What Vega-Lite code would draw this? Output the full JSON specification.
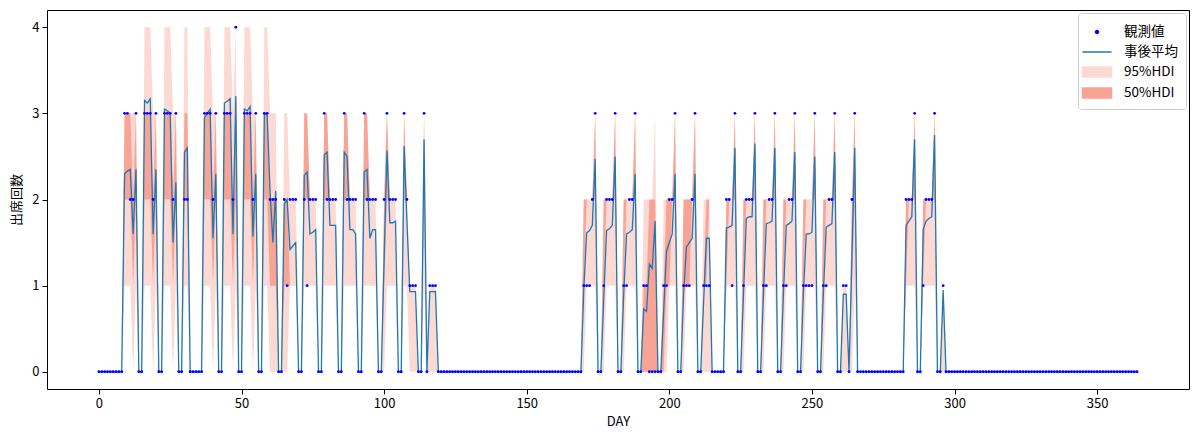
{
  "$schema": "https://vega.github.io/schema/vega-lite/v6.json",
  "width": 1142,
  "height": 379,
  "autosize": {"type": "none"},
  "padding": {"left": 47, "top": 10, "right": 11, "bottom": 52},
  "background": "white",
  "config": {
    "view": {"stroke": "black", "strokeWidth": 1},
    "font": "Noto Sans CJK JP",
    "axis": {
      "grid": false, "domain": false, "tickColor": "black", "tickSize": 5,
      "labelColor": "black", "labelFontSize": 13, "labelFont": "Noto Sans CJK JP",
      "titleColor": "black", "titleFontSize": 13, "titleFont": "Noto Sans CJK JP", "titleFontWeight": "normal"
    }
  },
  "data": {"values": [
{"day":0,"obs":0,"mean":0,"l95":0,"h95":0,"l50":0,"h50":0},
{"day":1,"obs":0,"mean":0,"l95":0,"h95":0,"l50":0,"h50":0},
{"day":2,"obs":0,"mean":0,"l95":0,"h95":0,"l50":0,"h50":0},
{"day":3,"obs":0,"mean":0,"l95":0,"h95":0,"l50":0,"h50":0},
{"day":4,"obs":0,"mean":0,"l95":0,"h95":0,"l50":0,"h50":0},
{"day":5,"obs":0,"mean":0,"l95":0,"h95":0,"l50":0,"h50":0},
{"day":6,"obs":0,"mean":0,"l95":0,"h95":0,"l50":0,"h50":0},
{"day":7,"obs":0,"mean":0,"l95":0,"h95":0,"l50":0,"h50":0},
{"day":8,"obs":0,"mean":0,"l95":0,"h95":0,"l50":0,"h50":0},
{"day":9,"obs":3,"mean":2.30,"l95":1,"h95":3,"l50":2,"h50":3},
{"day":10,"obs":3,"mean":2.33,"l95":1,"h95":3,"l50":2,"h50":3},
{"day":11,"obs":2,"mean":2.35,"l95":1,"h95":3,"l50":2,"h50":3},
{"day":12,"obs":2,"mean":1.60,"l95":0,"h95":3,"l50":1,"h50":2},
{"day":13,"obs":3,"mean":2.35,"l95":1,"h95":3,"l50":2,"h50":3},
{"day":14,"obs":0,"mean":0,"l95":0,"h95":0,"l50":0,"h50":0},
{"day":15,"obs":0,"mean":0,"l95":0,"h95":0,"l50":0,"h50":0},
{"day":16,"obs":3,"mean":3.15,"l95":1,"h95":4,"l50":2,"h50":3},
{"day":17,"obs":3,"mean":3.12,"l95":1,"h95":4,"l50":2,"h50":3},
{"day":18,"obs":3,"mean":3.17,"l95":1,"h95":4,"l50":2,"h50":3},
{"day":19,"obs":2,"mean":1.60,"l95":0,"h95":3,"l50":1,"h50":2},
{"day":20,"obs":3,"mean":2.35,"l95":1,"h95":3,"l50":2,"h50":3},
{"day":21,"obs":0,"mean":0,"l95":0,"h95":0,"l50":0,"h50":0},
{"day":22,"obs":0,"mean":0,"l95":0,"h95":0,"l50":0,"h50":0},
{"day":23,"obs":3,"mean":3.05,"l95":1,"h95":4,"l50":2,"h50":3},
{"day":24,"obs":3,"mean":3.03,"l95":1,"h95":4,"l50":2,"h50":3},
{"day":25,"obs":3,"mean":3.00,"l95":1,"h95":4,"l50":2,"h50":3},
{"day":26,"obs":2,"mean":1.50,"l95":0,"h95":3,"l50":1,"h50":2},
{"day":27,"obs":3,"mean":2.20,"l95":1,"h95":3,"l50":2,"h50":3},
{"day":28,"obs":0,"mean":0,"l95":0,"h95":0,"l50":0,"h50":0},
{"day":29,"obs":0,"mean":0,"l95":0,"h95":0,"l50":0,"h50":0},
{"day":30,"obs":2,"mean":2.55,"l95":1,"h95":4,"l50":2,"h50":3},
{"day":31,"obs":2,"mean":2.60,"l95":1,"h95":4,"l50":2,"h50":3},
{"day":32,"obs":0,"mean":0,"l95":0,"h95":0,"l50":0,"h50":0},
{"day":33,"obs":0,"mean":0,"l95":0,"h95":0,"l50":0,"h50":0},
{"day":34,"obs":0,"mean":0,"l95":0,"h95":0,"l50":0,"h50":0},
{"day":35,"obs":0,"mean":0,"l95":0,"h95":0,"l50":0,"h50":0},
{"day":36,"obs":0,"mean":0,"l95":0,"h95":0,"l50":0,"h50":0},
{"day":37,"obs":3,"mean":2.95,"l95":1,"h95":4,"l50":2,"h50":3},
{"day":38,"obs":3,"mean":3.00,"l95":1,"h95":4,"l50":2,"h50":3},
{"day":39,"obs":3,"mean":3.05,"l95":1,"h95":4,"l50":2,"h50":3},
{"day":40,"obs":2,"mean":1.55,"l95":0,"h95":3,"l50":1,"h50":2},
{"day":41,"obs":3,"mean":2.30,"l95":1,"h95":3,"l50":2,"h50":3},
{"day":42,"obs":0,"mean":0,"l95":0,"h95":0,"l50":0,"h50":0},
{"day":43,"obs":0,"mean":0,"l95":0,"h95":0,"l50":0,"h50":0},
{"day":44,"obs":3,"mean":3.12,"l95":1,"h95":4,"l50":2,"h50":3},
{"day":45,"obs":3,"mean":3.14,"l95":1,"h95":4,"l50":2,"h50":3},
{"day":46,"obs":3,"mean":3.17,"l95":1,"h95":4,"l50":2,"h50":3},
{"day":47,"obs":2,"mean":1.60,"l95":0,"h95":3,"l50":1,"h50":2},
{"day":48,"obs":4,"mean":3.20,"l95":1,"h95":4,"l50":2,"h50":3},
{"day":49,"obs":0,"mean":0,"l95":0,"h95":0,"l50":0,"h50":0},
{"day":50,"obs":0,"mean":0,"l95":0,"h95":0,"l50":0,"h50":0},
{"day":51,"obs":3,"mean":3.05,"l95":1,"h95":4,"l50":2,"h50":3},
{"day":52,"obs":3,"mean":3.03,"l95":1,"h95":4,"l50":2,"h50":3},
{"day":53,"obs":3,"mean":3.08,"l95":1,"h95":4,"l50":2,"h50":3},
{"day":54,"obs":2,"mean":1.57,"l95":0,"h95":3,"l50":1,"h50":2},
{"day":55,"obs":3,"mean":2.30,"l95":1,"h95":3,"l50":2,"h50":3},
{"day":56,"obs":0,"mean":0,"l95":0,"h95":0,"l50":0,"h50":0},
{"day":57,"obs":0,"mean":0,"l95":0,"h95":0,"l50":0,"h50":0},
{"day":58,"obs":3,"mean":3.00,"l95":1,"h95":4,"l50":2,"h50":3},
{"day":59,"obs":3,"mean":2.98,"l95":1,"h95":4,"l50":2,"h50":3},
{"day":60,"obs":2,"mean":2.10,"l95":0,"h95":3,"l50":1,"h50":2},
{"day":61,"obs":2,"mean":1.50,"l95":0,"h95":3,"l50":1,"h50":2},
{"day":62,"obs":2,"mean":2.10,"l95":0,"h95":3,"l50":1,"h50":2},
{"day":63,"obs":0,"mean":0,"l95":0,"h95":0,"l50":0,"h50":0},
{"day":64,"obs":0,"mean":0,"l95":0,"h95":0,"l50":0,"h50":0},
{"day":65,"obs":2,"mean":1.95,"l95":0,"h95":3,"l50":1,"h50":2},
{"day":66,"obs":1,"mean":2.00,"l95":0,"h95":3,"l50":1,"h50":2},
{"day":67,"obs":2,"mean":1.42,"l95":1,"h95":2,"l50":1,"h50":1},
{"day":68,"obs":2,"mean":1.46,"l95":1,"h95":2,"l50":1,"h50":1},
{"day":69,"obs":2,"mean":1.50,"l95":1,"h95":2,"l50":1,"h50":1},
{"day":70,"obs":0,"mean":0,"l95":0,"h95":0,"l50":0,"h50":0},
{"day":71,"obs":0,"mean":0,"l95":0,"h95":0,"l50":0,"h50":0},
{"day":72,"obs":2,"mean":2.28,"l95":1,"h95":3,"l50":2,"h50":3},
{"day":73,"obs":1,"mean":2.32,"l95":1,"h95":3,"l50":2,"h50":3},
{"day":74,"obs":2,"mean":1.60,"l95":1,"h95":2,"l50":2,"h50":2},
{"day":75,"obs":2,"mean":1.62,"l95":1,"h95":2,"l50":2,"h50":2},
{"day":76,"obs":2,"mean":1.65,"l95":1,"h95":2,"l50":2,"h50":2},
{"day":77,"obs":0,"mean":0,"l95":0,"h95":0,"l50":0,"h50":0},
{"day":78,"obs":0,"mean":0,"l95":0,"h95":0,"l50":0,"h50":0},
{"day":79,"obs":3,"mean":2.52,"l95":1,"h95":3,"l50":2,"h50":3},
{"day":80,"obs":2,"mean":2.55,"l95":1,"h95":3,"l50":2,"h50":3},
{"day":81,"obs":2,"mean":1.70,"l95":1,"h95":2,"l50":2,"h50":2},
{"day":82,"obs":2,"mean":1.70,"l95":1,"h95":2,"l50":2,"h50":2},
{"day":83,"obs":2,"mean":1.70,"l95":1,"h95":2,"l50":2,"h50":2},
{"day":84,"obs":0,"mean":0,"l95":0,"h95":0,"l50":0,"h50":0},
{"day":85,"obs":0,"mean":0,"l95":0,"h95":0,"l50":0,"h50":0},
{"day":86,"obs":3,"mean":2.55,"l95":1,"h95":3,"l50":2,"h50":3},
{"day":87,"obs":2,"mean":2.50,"l95":1,"h95":3,"l50":2,"h50":3},
{"day":88,"obs":2,"mean":1.65,"l95":1,"h95":2,"l50":2,"h50":2},
{"day":89,"obs":2,"mean":1.65,"l95":1,"h95":2,"l50":2,"h50":2},
{"day":90,"obs":2,"mean":1.60,"l95":1,"h95":2,"l50":2,"h50":2},
{"day":91,"obs":0,"mean":0,"l95":0,"h95":0,"l50":0,"h50":0},
{"day":92,"obs":0,"mean":0,"l95":0,"h95":0,"l50":0,"h50":0},
{"day":93,"obs":3,"mean":2.32,"l95":1,"h95":3,"l50":2,"h50":3},
{"day":94,"obs":2,"mean":2.35,"l95":1,"h95":3,"l50":2,"h50":3},
{"day":95,"obs":2,"mean":1.55,"l95":1,"h95":2,"l50":2,"h50":2},
{"day":96,"obs":2,"mean":1.65,"l95":1,"h95":2,"l50":2,"h50":2},
{"day":97,"obs":2,"mean":1.65,"l95":1,"h95":2,"l50":2,"h50":2},
{"day":98,"obs":0,"mean":0,"l95":0,"h95":0,"l50":0,"h50":0},
{"day":99,"obs":0,"mean":0,"l95":0,"h95":0,"l50":0,"h50":0},
{"day":100,"obs":2,"mean":1.30,"l95":0,"h95":2,"l50":1,"h50":2},
{"day":101,"obs":3,"mean":2.57,"l95":1,"h95":3,"l50":2,"h50":3},
{"day":102,"obs":2,"mean":1.73,"l95":1,"h95":2,"l50":2,"h50":2},
{"day":103,"obs":2,"mean":1.73,"l95":1,"h95":2,"l50":2,"h50":2},
{"day":104,"obs":2,"mean":1.75,"l95":1,"h95":2,"l50":2,"h50":2},
{"day":105,"obs":0,"mean":0,"l95":0,"h95":0,"l50":0,"h50":0},
{"day":106,"obs":0,"mean":0,"l95":0,"h95":0,"l50":0,"h50":0},
{"day":107,"obs":3,"mean":2.62,"l95":1,"h95":3,"l50":2,"h50":3},
{"day":108,"obs":2,"mean":1.75,"l95":1,"h95":2,"l50":2,"h50":2},
{"day":109,"obs":1,"mean":0.93,"l95":0,"h95":1,"l50":1,"h50":1},
{"day":110,"obs":1,"mean":0.93,"l95":0,"h95":1,"l50":1,"h50":1},
{"day":111,"obs":1,"mean":0.93,"l95":0,"h95":1,"l50":1,"h50":1},
{"day":112,"obs":0,"mean":0,"l95":0,"h95":0,"l50":0,"h50":0},
{"day":113,"obs":0,"mean":0,"l95":0,"h95":0,"l50":0,"h50":0},
{"day":114,"obs":3,"mean":2.70,"l95":1,"h95":3,"l50":2,"h50":3},
{"day":115,"obs":0,"mean":0,"l95":0,"h95":0,"l50":0,"h50":0},
{"day":116,"obs":1,"mean":0.93,"l95":0,"h95":1,"l50":1,"h50":1},
{"day":117,"obs":1,"mean":0.93,"l95":0,"h95":1,"l50":1,"h50":1},
{"day":118,"obs":1,"mean":0.93,"l95":0,"h95":1,"l50":1,"h50":1},
{"day":119,"obs":0,"mean":0,"l95":0,"h95":0,"l50":0,"h50":0},
{"day":120,"obs":0,"mean":0,"l95":0,"h95":0,"l50":0,"h50":0},
{"day":121,"obs":0,"mean":0,"l95":0,"h95":0,"l50":0,"h50":0},
{"day":122,"obs":0,"mean":0,"l95":0,"h95":0,"l50":0,"h50":0},
{"day":123,"obs":0,"mean":0,"l95":0,"h95":0,"l50":0,"h50":0},
{"day":124,"obs":0,"mean":0,"l95":0,"h95":0,"l50":0,"h50":0},
{"day":125,"obs":0,"mean":0,"l95":0,"h95":0,"l50":0,"h50":0},
{"day":126,"obs":0,"mean":0,"l95":0,"h95":0,"l50":0,"h50":0},
{"day":127,"obs":0,"mean":0,"l95":0,"h95":0,"l50":0,"h50":0},
{"day":128,"obs":0,"mean":0,"l95":0,"h95":0,"l50":0,"h50":0},
{"day":129,"obs":0,"mean":0,"l95":0,"h95":0,"l50":0,"h50":0},
{"day":130,"obs":0,"mean":0,"l95":0,"h95":0,"l50":0,"h50":0},
{"day":131,"obs":0,"mean":0,"l95":0,"h95":0,"l50":0,"h50":0},
{"day":132,"obs":0,"mean":0,"l95":0,"h95":0,"l50":0,"h50":0},
{"day":133,"obs":0,"mean":0,"l95":0,"h95":0,"l50":0,"h50":0},
{"day":134,"obs":0,"mean":0,"l95":0,"h95":0,"l50":0,"h50":0},
{"day":135,"obs":0,"mean":0,"l95":0,"h95":0,"l50":0,"h50":0},
{"day":136,"obs":0,"mean":0,"l95":0,"h95":0,"l50":0,"h50":0},
{"day":137,"obs":0,"mean":0,"l95":0,"h95":0,"l50":0,"h50":0},
{"day":138,"obs":0,"mean":0,"l95":0,"h95":0,"l50":0,"h50":0},
{"day":139,"obs":0,"mean":0,"l95":0,"h95":0,"l50":0,"h50":0},
{"day":140,"obs":0,"mean":0,"l95":0,"h95":0,"l50":0,"h50":0},
{"day":141,"obs":0,"mean":0,"l95":0,"h95":0,"l50":0,"h50":0},
{"day":142,"obs":0,"mean":0,"l95":0,"h95":0,"l50":0,"h50":0},
{"day":143,"obs":0,"mean":0,"l95":0,"h95":0,"l50":0,"h50":0},
{"day":144,"obs":0,"mean":0,"l95":0,"h95":0,"l50":0,"h50":0},
{"day":145,"obs":0,"mean":0,"l95":0,"h95":0,"l50":0,"h50":0},
{"day":146,"obs":0,"mean":0,"l95":0,"h95":0,"l50":0,"h50":0},
{"day":147,"obs":0,"mean":0,"l95":0,"h95":0,"l50":0,"h50":0},
{"day":148,"obs":0,"mean":0,"l95":0,"h95":0,"l50":0,"h50":0},
{"day":149,"obs":0,"mean":0,"l95":0,"h95":0,"l50":0,"h50":0},
{"day":150,"obs":0,"mean":0,"l95":0,"h95":0,"l50":0,"h50":0},
{"day":151,"obs":0,"mean":0,"l95":0,"h95":0,"l50":0,"h50":0},
{"day":152,"obs":0,"mean":0,"l95":0,"h95":0,"l50":0,"h50":0},
{"day":153,"obs":0,"mean":0,"l95":0,"h95":0,"l50":0,"h50":0},
{"day":154,"obs":0,"mean":0,"l95":0,"h95":0,"l50":0,"h50":0},
{"day":155,"obs":0,"mean":0,"l95":0,"h95":0,"l50":0,"h50":0},
{"day":156,"obs":0,"mean":0,"l95":0,"h95":0,"l50":0,"h50":0},
{"day":157,"obs":0,"mean":0,"l95":0,"h95":0,"l50":0,"h50":0},
{"day":158,"obs":0,"mean":0,"l95":0,"h95":0,"l50":0,"h50":0},
{"day":159,"obs":0,"mean":0,"l95":0,"h95":0,"l50":0,"h50":0},
{"day":160,"obs":0,"mean":0,"l95":0,"h95":0,"l50":0,"h50":0},
{"day":161,"obs":0,"mean":0,"l95":0,"h95":0,"l50":0,"h50":0},
{"day":162,"obs":0,"mean":0,"l95":0,"h95":0,"l50":0,"h50":0},
{"day":163,"obs":0,"mean":0,"l95":0,"h95":0,"l50":0,"h50":0},
{"day":164,"obs":0,"mean":0,"l95":0,"h95":0,"l50":0,"h50":0},
{"day":165,"obs":0,"mean":0,"l95":0,"h95":0,"l50":0,"h50":0},
{"day":166,"obs":0,"mean":0,"l95":0,"h95":0,"l50":0,"h50":0},
{"day":167,"obs":0,"mean":0,"l95":0,"h95":0,"l50":0,"h50":0},
{"day":168,"obs":0,"mean":0,"l95":0,"h95":0,"l50":0,"h50":0},
{"day":169,"obs":0,"mean":0,"l95":0,"h95":0,"l50":0,"h50":0},
{"day":170,"obs":1,"mean":0.95,"l95":0,"h95":2,"l50":1,"h50":2},
{"day":171,"obs":1,"mean":1.61,"l95":1,"h95":2,"l50":2,"h50":2},
{"day":172,"obs":1,"mean":1.64,"l95":1,"h95":2,"l50":2,"h50":2},
{"day":173,"obs":2,"mean":1.70,"l95":1,"h95":2,"l50":2,"h50":2},
{"day":174,"obs":3,"mean":2.47,"l95":1,"h95":3,"l50":2,"h50":3},
{"day":175,"obs":0,"mean":0,"l95":0,"h95":0,"l50":0,"h50":0},
{"day":176,"obs":0,"mean":0,"l95":0,"h95":0,"l50":0,"h50":0},
{"day":177,"obs":1,"mean":0.85,"l95":0,"h95":2,"l50":1,"h50":2},
{"day":178,"obs":2,"mean":1.64,"l95":1,"h95":2,"l50":2,"h50":2},
{"day":179,"obs":2,"mean":1.66,"l95":1,"h95":2,"l50":2,"h50":2},
{"day":180,"obs":2,"mean":1.70,"l95":1,"h95":2,"l50":2,"h50":2},
{"day":181,"obs":3,"mean":2.50,"l95":1,"h95":3,"l50":2,"h50":3},
{"day":182,"obs":0,"mean":0,"l95":0,"h95":0,"l50":0,"h50":0},
{"day":183,"obs":0,"mean":0,"l95":0,"h95":0,"l50":0,"h50":0},
{"day":184,"obs":1,"mean":0.90,"l95":0,"h95":2,"l50":1,"h50":2},
{"day":185,"obs":1,"mean":1.60,"l95":1,"h95":2,"l50":2,"h50":2},
{"day":186,"obs":2,"mean":1.62,"l95":1,"h95":2,"l50":2,"h50":2},
{"day":187,"obs":2,"mean":1.65,"l95":1,"h95":2,"l50":2,"h50":2},
{"day":188,"obs":3,"mean":2.30,"l95":1,"h95":3,"l50":2,"h50":3},
{"day":189,"obs":0,"mean":0,"l95":0,"h95":0,"l50":0,"h50":0},
{"day":190,"obs":0,"mean":0,"l95":0,"h95":0,"l50":0,"h50":0},
{"day":191,"obs":1,"mean":0.73,"l95":0,"h95":2,"l50":0,"h50":1},
{"day":192,"obs":1,"mean":0.70,"l95":0,"h95":2,"l50":0,"h50":1},
{"day":193,"obs":0,"mean":1.25,"l95":0,"h95":2,"l50":0,"h50":2},
{"day":194,"obs":0,"mean":1.20,"l95":0,"h95":2,"l50":0,"h50":2},
{"day":195,"obs":0,"mean":1.75,"l95":0,"h95":3,"l50":0,"h50":2},
{"day":196,"obs":0,"mean":0,"l95":0,"h95":0,"l50":0,"h50":0},
{"day":197,"obs":0,"mean":0,"l95":0,"h95":0,"l50":0,"h50":0},
{"day":198,"obs":1,"mean":0.70,"l95":0,"h95":2,"l50":0,"h50":1},
{"day":199,"obs":1,"mean":1.40,"l95":0,"h95":2,"l50":1,"h50":2},
{"day":200,"obs":2,"mean":1.50,"l95":1,"h95":2,"l50":1,"h50":2},
{"day":201,"obs":2,"mean":1.60,"l95":1,"h95":2,"l50":2,"h50":2},
{"day":202,"obs":3,"mean":2.30,"l95":1,"h95":3,"l50":2,"h50":3},
{"day":203,"obs":0,"mean":0,"l95":0,"h95":0,"l50":0,"h50":0},
{"day":204,"obs":0,"mean":0,"l95":0,"h95":0,"l50":0,"h50":0},
{"day":205,"obs":1,"mean":0.90,"l95":0,"h95":2,"l50":1,"h50":2},
{"day":206,"obs":1,"mean":1.45,"l95":1,"h95":2,"l50":1,"h50":2},
{"day":207,"obs":1,"mean":1.50,"l95":1,"h95":2,"l50":1,"h50":2},
{"day":208,"obs":2,"mean":1.55,"l95":1,"h95":2,"l50":2,"h50":2},
{"day":209,"obs":3,"mean":2.30,"l95":1,"h95":3,"l50":2,"h50":3},
{"day":210,"obs":0,"mean":0,"l95":0,"h95":0,"l50":0,"h50":0},
{"day":211,"obs":0,"mean":0,"l95":0,"h95":0,"l50":0,"h50":0},
{"day":212,"obs":1,"mean":0.80,"l95":0,"h95":2,"l50":1,"h50":1},
{"day":213,"obs":1,"mean":1.55,"l95":0,"h95":2,"l50":1,"h50":2},
{"day":214,"obs":1,"mean":1.55,"l95":0,"h95":2,"l50":2,"h50":2},
{"day":215,"obs":0,"mean":0,"l95":0,"h95":0,"l50":0,"h50":0},
{"day":216,"obs":0,"mean":0,"l95":0,"h95":0,"l50":0,"h50":0},
{"day":217,"obs":0,"mean":0,"l95":0,"h95":0,"l50":0,"h50":0},
{"day":218,"obs":0,"mean":0,"l95":0,"h95":0,"l50":0,"h50":0},
{"day":219,"obs":0,"mean":0,"l95":0,"h95":0,"l50":0,"h50":0},
{"day":220,"obs":2,"mean":1.67,"l95":1,"h95":2,"l50":1,"h50":2},
{"day":221,"obs":2,"mean":1.68,"l95":1,"h95":2,"l50":2,"h50":2},
{"day":222,"obs":1,"mean":1.70,"l95":1,"h95":2,"l50":2,"h50":2},
{"day":223,"obs":3,"mean":2.60,"l95":1,"h95":3,"l50":2,"h50":3},
{"day":224,"obs":0,"mean":0,"l95":0,"h95":0,"l50":0,"h50":0},
{"day":225,"obs":0,"mean":0,"l95":0,"h95":0,"l50":0,"h50":0},
{"day":226,"obs":1,"mean":0.90,"l95":0,"h95":2,"l50":1,"h50":2},
{"day":227,"obs":2,"mean":1.78,"l95":1,"h95":2,"l50":2,"h50":2},
{"day":228,"obs":2,"mean":1.80,"l95":1,"h95":2,"l50":2,"h50":2},
{"day":229,"obs":2,"mean":1.80,"l95":1,"h95":2,"l50":2,"h50":2},
{"day":230,"obs":3,"mean":2.65,"l95":1,"h95":3,"l50":2,"h50":3},
{"day":231,"obs":0,"mean":0,"l95":0,"h95":0,"l50":0,"h50":0},
{"day":232,"obs":0,"mean":0,"l95":0,"h95":0,"l50":0,"h50":0},
{"day":233,"obs":1,"mean":0.90,"l95":0,"h95":2,"l50":1,"h50":2},
{"day":234,"obs":1,"mean":1.72,"l95":1,"h95":2,"l50":2,"h50":2},
{"day":235,"obs":2,"mean":1.73,"l95":1,"h95":2,"l50":2,"h50":2},
{"day":236,"obs":2,"mean":1.75,"l95":1,"h95":2,"l50":2,"h50":2},
{"day":237,"obs":3,"mean":2.60,"l95":1,"h95":3,"l50":2,"h50":3},
{"day":238,"obs":0,"mean":0,"l95":0,"h95":0,"l50":0,"h50":0},
{"day":239,"obs":0,"mean":0,"l95":0,"h95":0,"l50":0,"h50":0},
{"day":240,"obs":1,"mean":0.90,"l95":0,"h95":2,"l50":1,"h50":2},
{"day":241,"obs":1,"mean":1.70,"l95":1,"h95":2,"l50":2,"h50":2},
{"day":242,"obs":2,"mean":1.72,"l95":1,"h95":2,"l50":2,"h50":2},
{"day":243,"obs":2,"mean":1.75,"l95":1,"h95":2,"l50":2,"h50":2},
{"day":244,"obs":3,"mean":2.55,"l95":1,"h95":3,"l50":2,"h50":3},
{"day":245,"obs":0,"mean":0,"l95":0,"h95":0,"l50":0,"h50":0},
{"day":246,"obs":0,"mean":0,"l95":0,"h95":0,"l50":0,"h50":0},
{"day":247,"obs":1,"mean":0.90,"l95":0,"h95":2,"l50":1,"h50":2},
{"day":248,"obs":1,"mean":1.60,"l95":1,"h95":2,"l50":2,"h50":2},
{"day":249,"obs":1,"mean":1.60,"l95":1,"h95":2,"l50":2,"h50":2},
{"day":250,"obs":1,"mean":1.62,"l95":1,"h95":2,"l50":2,"h50":2},
{"day":251,"obs":3,"mean":2.50,"l95":1,"h95":3,"l50":2,"h50":3},
{"day":252,"obs":0,"mean":0,"l95":0,"h95":0,"l50":0,"h50":0},
{"day":253,"obs":0,"mean":0,"l95":0,"h95":0,"l50":0,"h50":0},
{"day":254,"obs":1,"mean":0.90,"l95":0,"h95":2,"l50":1,"h50":2},
{"day":255,"obs":1,"mean":1.68,"l95":1,"h95":2,"l50":2,"h50":2},
{"day":256,"obs":2,"mean":1.70,"l95":1,"h95":2,"l50":2,"h50":2},
{"day":257,"obs":2,"mean":1.72,"l95":1,"h95":2,"l50":2,"h50":2},
{"day":258,"obs":3,"mean":2.55,"l95":1,"h95":3,"l50":2,"h50":3},
{"day":259,"obs":0,"mean":0,"l95":0,"h95":0,"l50":0,"h50":0},
{"day":260,"obs":0,"mean":0,"l95":0,"h95":0,"l50":0,"h50":0},
{"day":261,"obs":1,"mean":0.90,"l95":0,"h95":1,"l50":1,"h50":1},
{"day":262,"obs":1,"mean":0.90,"l95":0,"h95":1,"l50":1,"h50":1},
{"day":263,"obs":0,"mean":0,"l95":0,"h95":0,"l50":0,"h50":0},
{"day":264,"obs":2,"mean":1.30,"l95":0,"h95":2,"l50":1,"h50":2},
{"day":265,"obs":3,"mean":2.60,"l95":1,"h95":3,"l50":2,"h50":3},
{"day":266,"obs":0,"mean":0,"l95":0,"h95":0,"l50":0,"h50":0},
{"day":267,"obs":0,"mean":0,"l95":0,"h95":0,"l50":0,"h50":0},
{"day":268,"obs":0,"mean":0,"l95":0,"h95":0,"l50":0,"h50":0},
{"day":269,"obs":0,"mean":0,"l95":0,"h95":0,"l50":0,"h50":0},
{"day":270,"obs":0,"mean":0,"l95":0,"h95":0,"l50":0,"h50":0},
{"day":271,"obs":0,"mean":0,"l95":0,"h95":0,"l50":0,"h50":0},
{"day":272,"obs":0,"mean":0,"l95":0,"h95":0,"l50":0,"h50":0},
{"day":273,"obs":0,"mean":0,"l95":0,"h95":0,"l50":0,"h50":0},
{"day":274,"obs":0,"mean":0,"l95":0,"h95":0,"l50":0,"h50":0},
{"day":275,"obs":0,"mean":0,"l95":0,"h95":0,"l50":0,"h50":0},
{"day":276,"obs":0,"mean":0,"l95":0,"h95":0,"l50":0,"h50":0},
{"day":277,"obs":0,"mean":0,"l95":0,"h95":0,"l50":0,"h50":0},
{"day":278,"obs":0,"mean":0,"l95":0,"h95":0,"l50":0,"h50":0},
{"day":279,"obs":0,"mean":0,"l95":0,"h95":0,"l50":0,"h50":0},
{"day":280,"obs":0,"mean":0,"l95":0,"h95":0,"l50":0,"h50":0},
{"day":281,"obs":0,"mean":0,"l95":0,"h95":0,"l50":0,"h50":0},
{"day":282,"obs":0,"mean":0,"l95":0,"h95":0,"l50":0,"h50":0},
{"day":283,"obs":2,"mean":1.70,"l95":1,"h95":2,"l50":1,"h50":2},
{"day":284,"obs":2,"mean":1.75,"l95":1,"h95":2,"l50":2,"h50":2},
{"day":285,"obs":2,"mean":1.80,"l95":1,"h95":2,"l50":2,"h50":2},
{"day":286,"obs":3,"mean":2.70,"l95":1,"h95":3,"l50":2,"h50":3},
{"day":287,"obs":0,"mean":0,"l95":0,"h95":0,"l50":0,"h50":0},
{"day":288,"obs":0,"mean":0,"l95":0,"h95":0,"l50":0,"h50":0},
{"day":289,"obs":1,"mean":1.65,"l95":1,"h95":2,"l50":1,"h50":2},
{"day":290,"obs":2,"mean":1.75,"l95":1,"h95":2,"l50":2,"h50":2},
{"day":291,"obs":2,"mean":1.78,"l95":1,"h95":2,"l50":2,"h50":2},
{"day":292,"obs":2,"mean":1.80,"l95":1,"h95":2,"l50":2,"h50":2},
{"day":293,"obs":3,"mean":2.75,"l95":1,"h95":3,"l50":2,"h50":3},
{"day":294,"obs":0,"mean":0,"l95":0,"h95":0,"l50":0,"h50":0},
{"day":295,"obs":0,"mean":0,"l95":0,"h95":0,"l50":0,"h50":0},
{"day":296,"obs":1,"mean":0.95,"l95":0,"h95":1,"l50":1,"h50":1},
{"day":297,"obs":0,"mean":0,"l95":0,"h95":0,"l50":0,"h50":0},
{"day":298,"obs":0,"mean":0,"l95":0,"h95":0,"l50":0,"h50":0},
{"day":299,"obs":0,"mean":0,"l95":0,"h95":0,"l50":0,"h50":0},
{"day":300,"obs":0,"mean":0,"l95":0,"h95":0,"l50":0,"h50":0},
{"day":301,"obs":0,"mean":0,"l95":0,"h95":0,"l50":0,"h50":0},
{"day":302,"obs":0,"mean":0,"l95":0,"h95":0,"l50":0,"h50":0},
{"day":303,"obs":0,"mean":0,"l95":0,"h95":0,"l50":0,"h50":0},
{"day":304,"obs":0,"mean":0,"l95":0,"h95":0,"l50":0,"h50":0},
{"day":305,"obs":0,"mean":0,"l95":0,"h95":0,"l50":0,"h50":0},
{"day":306,"obs":0,"mean":0,"l95":0,"h95":0,"l50":0,"h50":0},
{"day":307,"obs":0,"mean":0,"l95":0,"h95":0,"l50":0,"h50":0},
{"day":308,"obs":0,"mean":0,"l95":0,"h95":0,"l50":0,"h50":0},
{"day":309,"obs":0,"mean":0,"l95":0,"h95":0,"l50":0,"h50":0},
{"day":310,"obs":0,"mean":0,"l95":0,"h95":0,"l50":0,"h50":0},
{"day":311,"obs":0,"mean":0,"l95":0,"h95":0,"l50":0,"h50":0},
{"day":312,"obs":0,"mean":0,"l95":0,"h95":0,"l50":0,"h50":0},
{"day":313,"obs":0,"mean":0,"l95":0,"h95":0,"l50":0,"h50":0},
{"day":314,"obs":0,"mean":0,"l95":0,"h95":0,"l50":0,"h50":0},
{"day":315,"obs":0,"mean":0,"l95":0,"h95":0,"l50":0,"h50":0},
{"day":316,"obs":0,"mean":0,"l95":0,"h95":0,"l50":0,"h50":0},
{"day":317,"obs":0,"mean":0,"l95":0,"h95":0,"l50":0,"h50":0},
{"day":318,"obs":0,"mean":0,"l95":0,"h95":0,"l50":0,"h50":0},
{"day":319,"obs":0,"mean":0,"l95":0,"h95":0,"l50":0,"h50":0},
{"day":320,"obs":0,"mean":0,"l95":0,"h95":0,"l50":0,"h50":0},
{"day":321,"obs":0,"mean":0,"l95":0,"h95":0,"l50":0,"h50":0},
{"day":322,"obs":0,"mean":0,"l95":0,"h95":0,"l50":0,"h50":0},
{"day":323,"obs":0,"mean":0,"l95":0,"h95":0,"l50":0,"h50":0},
{"day":324,"obs":0,"mean":0,"l95":0,"h95":0,"l50":0,"h50":0},
{"day":325,"obs":0,"mean":0,"l95":0,"h95":0,"l50":0,"h50":0},
{"day":326,"obs":0,"mean":0,"l95":0,"h95":0,"l50":0,"h50":0},
{"day":327,"obs":0,"mean":0,"l95":0,"h95":0,"l50":0,"h50":0},
{"day":328,"obs":0,"mean":0,"l95":0,"h95":0,"l50":0,"h50":0},
{"day":329,"obs":0,"mean":0,"l95":0,"h95":0,"l50":0,"h50":0},
{"day":330,"obs":0,"mean":0,"l95":0,"h95":0,"l50":0,"h50":0},
{"day":331,"obs":0,"mean":0,"l95":0,"h95":0,"l50":0,"h50":0},
{"day":332,"obs":0,"mean":0,"l95":0,"h95":0,"l50":0,"h50":0},
{"day":333,"obs":0,"mean":0,"l95":0,"h95":0,"l50":0,"h50":0},
{"day":334,"obs":0,"mean":0,"l95":0,"h95":0,"l50":0,"h50":0},
{"day":335,"obs":0,"mean":0,"l95":0,"h95":0,"l50":0,"h50":0},
{"day":336,"obs":0,"mean":0,"l95":0,"h95":0,"l50":0,"h50":0},
{"day":337,"obs":0,"mean":0,"l95":0,"h95":0,"l50":0,"h50":0},
{"day":338,"obs":0,"mean":0,"l95":0,"h95":0,"l50":0,"h50":0},
{"day":339,"obs":0,"mean":0,"l95":0,"h95":0,"l50":0,"h50":0},
{"day":340,"obs":0,"mean":0,"l95":0,"h95":0,"l50":0,"h50":0},
{"day":341,"obs":0,"mean":0,"l95":0,"h95":0,"l50":0,"h50":0},
{"day":342,"obs":0,"mean":0,"l95":0,"h95":0,"l50":0,"h50":0},
{"day":343,"obs":0,"mean":0,"l95":0,"h95":0,"l50":0,"h50":0},
{"day":344,"obs":0,"mean":0,"l95":0,"h95":0,"l50":0,"h50":0},
{"day":345,"obs":0,"mean":0,"l95":0,"h95":0,"l50":0,"h50":0},
{"day":346,"obs":0,"mean":0,"l95":0,"h95":0,"l50":0,"h50":0},
{"day":347,"obs":0,"mean":0,"l95":0,"h95":0,"l50":0,"h50":0},
{"day":348,"obs":0,"mean":0,"l95":0,"h95":0,"l50":0,"h50":0},
{"day":349,"obs":0,"mean":0,"l95":0,"h95":0,"l50":0,"h50":0},
{"day":350,"obs":0,"mean":0,"l95":0,"h95":0,"l50":0,"h50":0},
{"day":351,"obs":0,"mean":0,"l95":0,"h95":0,"l50":0,"h50":0},
{"day":352,"obs":0,"mean":0,"l95":0,"h95":0,"l50":0,"h50":0},
{"day":353,"obs":0,"mean":0,"l95":0,"h95":0,"l50":0,"h50":0},
{"day":354,"obs":0,"mean":0,"l95":0,"h95":0,"l50":0,"h50":0},
{"day":355,"obs":0,"mean":0,"l95":0,"h95":0,"l50":0,"h50":0},
{"day":356,"obs":0,"mean":0,"l95":0,"h95":0,"l50":0,"h50":0},
{"day":357,"obs":0,"mean":0,"l95":0,"h95":0,"l50":0,"h50":0},
{"day":358,"obs":0,"mean":0,"l95":0,"h95":0,"l50":0,"h50":0},
{"day":359,"obs":0,"mean":0,"l95":0,"h95":0,"l50":0,"h50":0},
{"day":360,"obs":0,"mean":0,"l95":0,"h95":0,"l50":0,"h50":0},
{"day":361,"obs":0,"mean":0,"l95":0,"h95":0,"l50":0,"h50":0},
{"day":362,"obs":0,"mean":0,"l95":0,"h95":0,"l50":0,"h50":0},
{"day":363,"obs":0,"mean":0,"l95":0,"h95":0,"l50":0,"h50":0},
{"day":364,"obs":0,"mean":0,"l95":0,"h95":0,"l50":0,"h50":0}
  ]},
  "encoding": {
    "x": {
      "field": "day", "type": "quantitative",
      "scale": {"domain": [-18.2, 382.2], "nice": false, "zero": false},
      "axis": {"values": [0, 50, 100, 150, 200, 250, 300, 350], "title": "DAY", "labelPadding": 3, "titlePadding": 5}
    }
  },
  "layer": [
    {
      "mark": {"type": "area", "interpolate": "linear"},
      "encoding": {
        "y": {
          "field": "l95", "type": "quantitative",
          "scale": {"domain": [-0.2, 4.2], "nice": false, "zero": false},
          "axis": {"values": [0, 1, 2, 3, 4], "format": "d", "title": "出席回数", "labelPadding": 3, "titlePadding": 8}
        },
        "y2": {"field": "h95"},
        "color": {
          "datum": "95%HDI",
          "scale": {
            "domain": ["観測値", "事後平均", "95%HDI", "50%HDI"],
            "range": ["#0000ff", "#1f77b4", "#fdd9d3", "#f9a395"]
          },
          "legend": {
            "title": null, "orient": "top-right", "offset": 3, "padding": 8,
            "strokeColor": "#cfcfcf", "fillColor": "white", "cornerRadius": 3,
            "labelFontSize": 13.5, "labelFont": "Noto Sans CJK JP", "labelColor": "black",
            "labelOffset": 16, "symbolSize": 400, "rowPadding": 2,
            "encode": {
              "symbols": {
                "update": {
                  "shape": {"signal": "datum.value === '観測値' ? 'M-0.15,0A0.15,0.15 0 1,1 0.15,0A0.15,0.15 0 1,1 -0.15,0Z' : datum.value === '事後平均' ? 'M-1.45,0H1.45' : 'M-1.45,-0.5H1.45V0.5H-1.45Z'"},
                  "fill": {"signal": "datum.value === '観測値' ? '#0000ff' : datum.value === '事後平均' ? 'transparent' : datum.value === '95%HDI' ? '#fdd9d3' : '#f9a395'"},
                  "stroke": {"signal": "datum.value === '事後平均' ? '#1f77b4' : 'transparent'"},
                  "strokeWidth": {"value": 1.5},
                  "opacity": {"value": 1}
                }
              }
            }
          }
        }
      }
    },
    {
      "mark": {"type": "area", "interpolate": "linear"},
      "encoding": {
        "y": {"field": "l50", "type": "quantitative"},
        "y2": {"field": "h50"},
        "color": {"datum": "50%HDI"}
      }
    },
    {
      "mark": {"type": "line", "strokeWidth": 1.3, "interpolate": "linear"},
      "encoding": {
        "y": {"field": "mean", "type": "quantitative"},
        "color": {"datum": "事後平均"}
      }
    },
    {
      "mark": {"type": "point", "filled": true, "size": 8, "opacity": 1, "shape": "circle"},
      "encoding": {
        "y": {"field": "obs", "type": "quantitative"},
        "color": {"datum": "観測値"}
      }
    }
  ]
}
